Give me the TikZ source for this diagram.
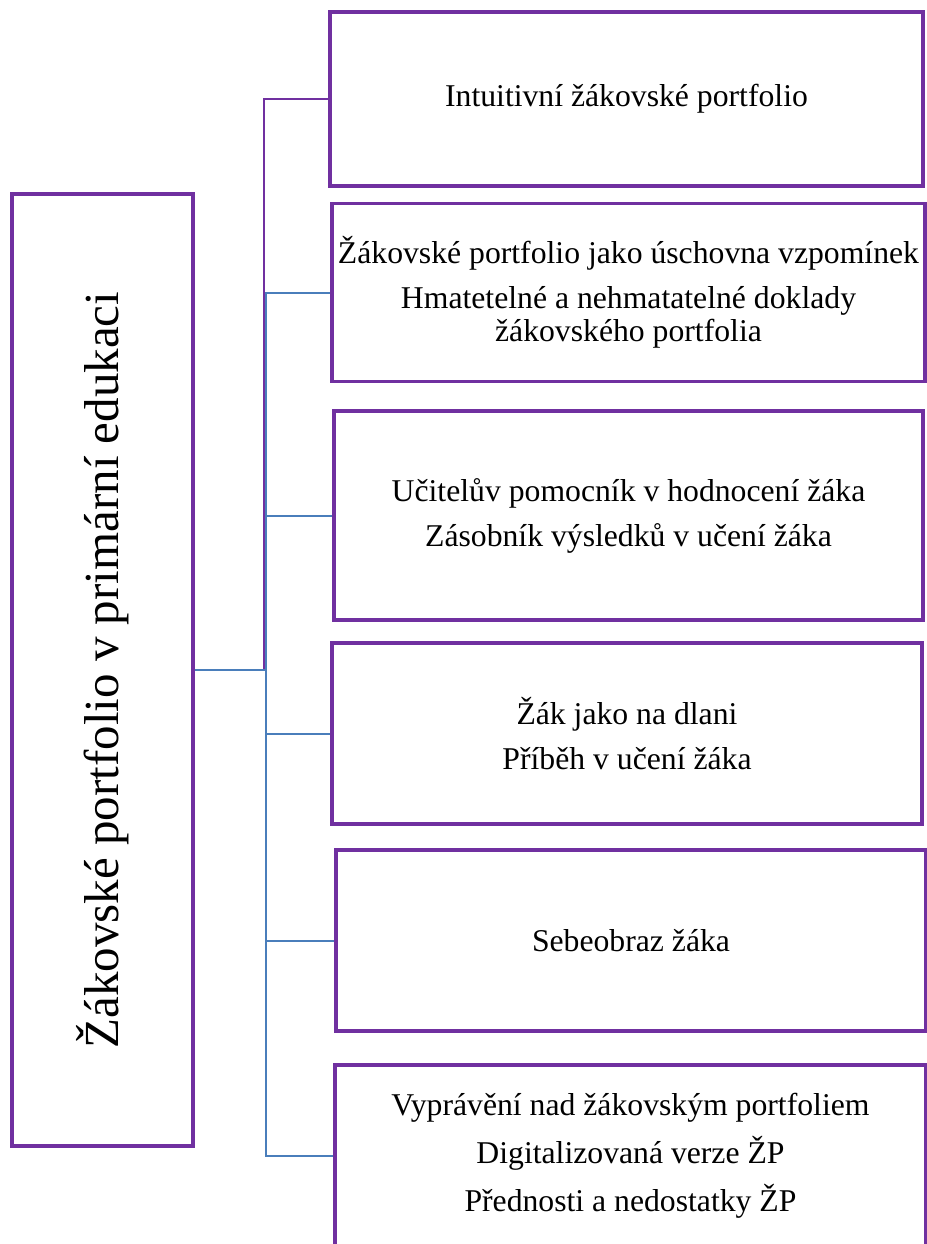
\documentclass[tikz,border=0pt]{standalone}
\usepackage{fontspec}
\setmainfont{Liberation Serif}
\usetikzlibrary{positioning}
\definecolor{purp}{HTML}{7030A0}
\definecolor{steel}{HTML}{4A7EBB}

\begin{document}
\begin{tikzpicture}[
  x=0.5pt, y=-0.5pt,
  every node/.style={font=\fontsize{15.85}{16.5}\selectfont},
  box/.style={draw=purp, line width=1.75pt, align=center, inner sep=0pt},
  mainbox/.style={box, minimum width=90.5pt, minimum height=476pt},
  conn/.style={line width=1pt},
  pconn/.style={conn, draw=purp},
  bconn/.style={conn, draw=steel},
]
\useasboundingbox (0,0) rectangle (927,1244);

% main box
\node[mainbox] (main) at (102.5,670) {};
\node[rotate=90, font=\fontsize{24.5}{28}\selectfont] (title) at (main.center) {Žákovské portfolio v primární edukaci};

% right column
\node[box, minimum width=296.5pt, minimum height=87pt] (b1) at (626.5,99)
  {Intuitivní žákovské portfolio};
\node[box, minimum width=296.5pt, minimum height=89pt] (b2) at (628.5,292.5)
  {Žákovské portfolio jako úschovna vzpomínek\\[6pt]
   Hmatetelné a nehmatatelné doklady\\žákovského portfolia};
\node[box, minimum width=294.5pt, minimum height=104.5pt] (b3) at (628.5,515.5)
  {Učitelův pomocník v hodnocení žáka\\[6pt]Zásobník výsledků v učení žáka};
\node[box, minimum width=295pt, minimum height=90.5pt] (b4) at (627,733.5)
  {Žák jako na dlani\\[6pt]Příběh v učení žáka};
\node[box, minimum width=295pt, minimum height=90.5pt] (b5) at (631,940.5)
  {Sebeobraz žáka};
\node[box, minimum width=295.5pt, minimum height=91pt] (b6) at (630.5,1156)
  {Vyprávění nad žákovským portfoliem\\[6pt]Digitalizovaná verze ŽP\\[6pt]Přednosti a nedostatky ŽP};

% connectors
\draw[pconn] (main.east) -- ++(69,0) |- (b1.west);
\foreach \b in {b2,b3,b4,b5,b6}
  \draw[bconn] (main.east) -- ++(71,0) |- (\b.west);
\end{tikzpicture}
\end{document}
